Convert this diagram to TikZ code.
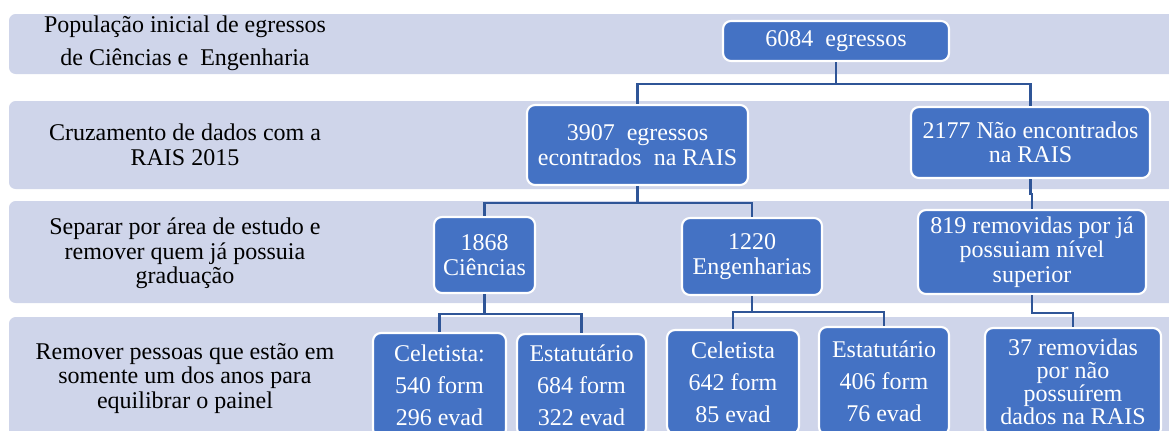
\documentclass[tikz,border=0pt]{standalone}
\usepackage{fontspec}
\setmainfont{Liberation Serif}
\usepackage{xcolor}
\definecolor{BandLav}{RGB}{207,213,234}
\definecolor{BoxBlue}{RGB}{68,114,196}
\definecolor{LinkBlue}{RGB}{47,85,151}

\begin{document}
\begin{tikzpicture}[x=0.75pt, y=-0.75pt,
  band/.style={fill=BandLav, rounded corners=5pt},
  box/.style 2 args={draw=white, line width=1.6pt, fill=BoxBlue, rounded corners=6pt,
    text=white, align=center, inner sep=0pt,
    minimum width=#1*0.75pt, minimum height=#2*0.75pt,
    font=\fontsize{18}{18.4}\selectfont},
  wide/.style={font=\fontsize{18}{24}\selectfont},
  lbl/.style={align=center, font=\fontsize{18}{18.4}\selectfont},
  link/.style={draw=LinkBlue, line width=2pt}]
\useasboundingbox (0,0) rectangle (1169,430);
\clip (0,0) rectangle (1169,430);

% ---- bands ----
\foreach \t/\b in {14/74, 101/189, 201/303, 317/450}{
  \fill[band] (9,\t) rectangle (1190,\b);
}

% ---- step labels ----
\node[lbl, font=\fontsize{18}{24.75}\selectfont] (lab1) at (185,43.5) {População inicial de egressos\\de Ciências e\ \ Engenharia};
\node[lbl] (lab2) at (185,145) {Cruzamento de dados com a\\RAIS 2015};
\node[lbl] (lab3) at (185,253.5) {Separar por área de estudo e\\remover quem já possuia\\graduação};
\node[lbl] (lab4) at (185,378) {Remover pessoas que estão em\\somente um dos anos para\\equilibrar o painel};

% ---- boxes ----
\node[box={226}{40}] (n6084) at (836,41) {6084\ \ egressos};
\node[box={221}{80}] (n3907) at (637.5,145) {3907\ \ egressos\\econtrados\ \ na RAIS};
\node[box={239}{71}] (n2177) at (1030.5,142.5) {2177 Não encontrados\\na RAIS};
\node[box={101}{76}] (n1868) at (484.5,255) {1868\\Ciências};
\node[box={140}{77}] (n1220) at (752,256.5) {1220\\Engenharias};
\node[box={228}{84}] (n819) at (1032,252) {819 removidas por já\\possuiam nível\\superior};
\node[box={133}{104}, wide] (celC) at (439.5,385) {Celetista:\\540 form\\296 evad};
\node[box={129}{102}, wide] (estC) at (581.5,385) {Estatutário\\684 form\\322 evad};
\node[box={132}{104}, wide] (celE) at (733,382) {Celetista\\642 form\\85 evad};
\node[box={130}{108}, wide] (estE) at (884,381) {Estatutário\\406 form\\76 evad};
\node[box={176}{108}, font=\fontsize{18}{17.3}\selectfont] (n37) at (1073,382) {37 removidas\\por não\\possuírem\\dados na RAIS};

% ---- connectors ----
\draw[link] (n6084.south) -- ++(0,22) -| (n3907.north);
\draw[link] (n6084.south) -- ++(0,22) -| (n2177.north);
\draw[link] (n3907.south) -- ++(0,17) -| (n1868.north);
\draw[link] (n3907.south) -- ++(0,17) -| (n1220.north);
\draw[link] (n2177.south) -- ++(0,15) -| (n819.north);
\draw[link] (n1868.south) -- ++(0,20) -| (celC.north);
\draw[link] (n1868.south) -- ++(0,20) -| (estC.north);
\draw[link] (n1220.south) -- ++(0,16) -| (celE.north);
\draw[link] (n1220.south) -- ++(0,16) -| (estE.north);
\draw[link] (n819.south) -- ++(0,18) -| (n37.north);

\end{tikzpicture}
\end{document}
